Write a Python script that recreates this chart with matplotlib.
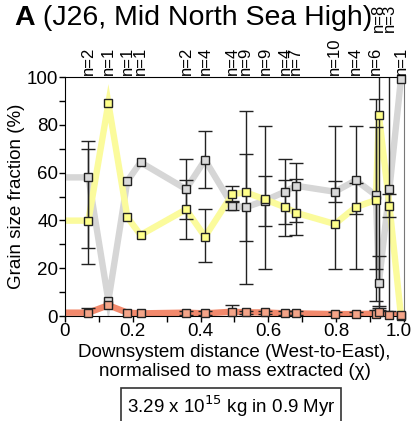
import numpy as np
import matplotlib.pyplot as plt
from matplotlib.transforms import ScaledTranslation

plt.rcParams['font.family'] = ['Liberation Sans', 'DejaVu Sans']

# Sample positions along the system (normalised, chi) and sample counts
chi = [0.069, 0.128, 0.184, 0.223, 0.357, 0.413, 0.494, 0.533, 0.590,
       0.649, 0.681, 0.796, 0.858, 0.917, 0.926, 0.957, 0.991]
n_samples = [2, 1, 1, 1, 2, 4, 4, 9, 9, 4, 7, 10, 4, 6, 8, 3, 1]
raised = [8, 3]  # labels lifted so they don't collide with neighbours

# Mean grain size fractions (%)
mud = [58.0, 6.4, 56.5, 64.3, 53.1, 65.3, 46.2, 45.5, 48.3,
       52.0, 54.5, 52.0, 56.8, 50.5, 13.9, 53.1, 99.2]
sand = [39.9, 89.0, 41.3, 33.9, 44.6, 33.2, 51.0, 51.7, 48.8,
        45.5, 43.2, 38.5, 45.6, 48.5, 84.1, 46.2, 0.0]
gravel = [1.4, 4.5, 1.4, 1.1, 1.4, 1.1, 1.8, 1.5, 1.5,
          1.1, 1.1, 0.8, 0.8, 1.0, 1.5, 0.5, 0.3]

nan = np.nan
# Error bar ranges (lower / upper bounds, %)
mud_lo = [28.6, nan, nan, nan, 40.6, 53.4, 44.2, 31.3, 37.8,
          38.4, 39.5, 47.5, 19.7, 19.5, 2.5, -20.0, nan]
mud_hi = [73.3, nan, nan, nan, 65.6, 77.2, 48.2, 67.6, 58.7,
          65.6, 64.1, 56.5, 79.5, 79.2, 25.3, 120.0, nan]
sand_lo = [21.8, nan, nan, nan, 32.4, 22.5, 47.6, 13.3, 19.7,
           33.5, 33.9, 19.7, 42.5, 6.3, 4.2, 41.5, nan]
sand_hi = [69.7, nan, nan, nan, 56.8, 44.6, 54.4, 85.8, 79.5,
           56.9, 57.2, 79.3, 55.8, 90.7, 120.0, 50.9, nan]
gravel_err = [1.9, nan, nan, nan, 0.8, 0.8, 2.8, 0.8, 0.8,
              0.8, 0.8, 0.8, 0.8, 1.5, 2.0, 1.5, nan]

series = [
    (mud, mud_lo, mud_hi, '#d6d6d6', '#d9d9d9'),
    (sand, sand_lo, sand_hi, '#fbfb9c', '#ffff8a'),
    (gravel, None, None, '#f2896c', '#f4a488'),
]

fig = plt.figure(figsize=(4.15, 4.21), dpi=100)
ax = fig.add_axes([0.1566, 0.2494, 0.8169, 0.5677])

x = np.array(chi)
for vals, lo, hi, band, face in series:
    v = np.array(vals)
    # thick background trend, carried back to chi = 0
    ax.plot(np.r_[0.0, x], np.r_[v[0], v], color=band, lw=4.6,
            solid_joinstyle='miter', zorder=1)
    if lo is None:
        err = np.array(gravel_err)
        yerr = [err, err]
    else:
        yerr = [v - np.array(lo), np.array(hi) - v]
    ax.errorbar(x, v, yerr=yerr, fmt='none', ecolor='#222222',
                elinewidth=1.0, capsize=5, capthick=1.0, zorder=2)
    ax.plot(x, v, ls='none', marker='s', ms=5.2, mfc=face, mec='#222222',
            mew=1.0, zorder=3, clip_on=False)

for xi, n in zip(chi, n_samples):
    yy = 1.188 if n in raised and xi > 0.9 else 1.008
    ax.text(xi, yy, f'n={n}', transform=ax.get_xaxis_transform(),
            rotation=90, ha='center', va='bottom', fontsize=12, zorder=5)

ax.set_xlim(0, 1.0)
ax.set_ylim(0, 100)
ax.set_xticks(np.arange(0, 1.01, 0.2))
ax.set_xticklabels(['0', '0.2', '0.4', '0.6', '0.8', '1.0'])
ax.set_xticks(np.arange(0, 1.01, 0.1), minor=True)
ax.set_yticks(np.arange(0, 101, 20))
ax.set_yticks(np.arange(0, 101, 10), minor=True)
ax.tick_params(which='both', direction='out', length=4, width=1,
               labelsize=13.5, pad=1)
ax.spines['right'].set_color('#777777')

# nudge the last x label in so it stays on the canvas
last = ax.get_xticklabels()[-1]
last.set_transform(last.get_transform() +
                   ScaledTranslation(-4 / 72, 0, fig.dpi_scale_trans))

ax.set_ylabel('Grain size fraction (%)', fontsize=13.5, labelpad=1)
ax.set_xlabel('Downsystem distance (West-to-East),\n'
              'normalised to mass extracted (χ)', fontsize=13.5,
              labelpad=3, linespacing=1.15)

# panel letter in bold, then the rest of the heading after it
panel = fig.text(0.034, 0.957, 'A', fontsize=20.5, fontweight='bold',
                 va='center', ha='left')
ax.annotate(' (J26, Mid North Sea High)', xy=(1, 0.5), xycoords=panel,
            va='center', ha='left', fontsize=20.5)

fig.text(0.557, 0.034, r'3.29 x 10$^{15}$ kg in 0.9 Myr', fontsize=13.5,
         ha='center', va='center',
         bbox=dict(boxstyle='square,pad=0.3', fc='white', ec='#333333',
                   lw=1.2))

fig.savefig('out.png', dpi=100)
